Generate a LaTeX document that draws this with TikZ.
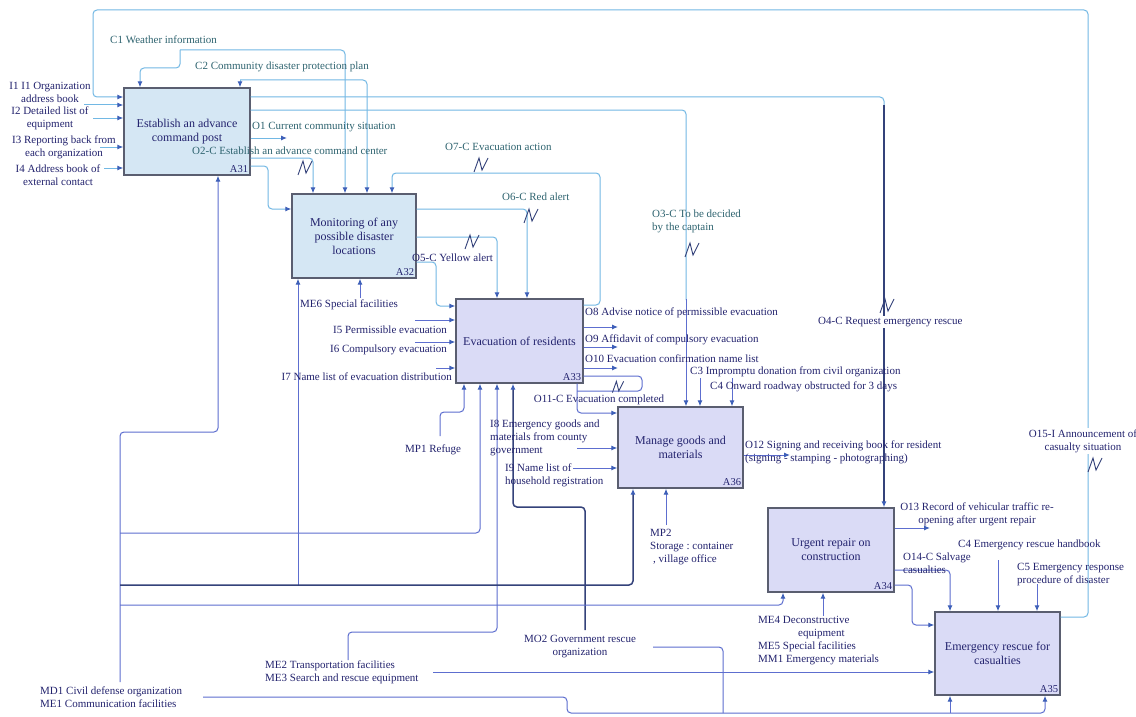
\documentclass[tikz,border=0pt]{standalone}
\usepackage{fontspec}
\setmainfont{Liberation Serif}
\usetikzlibrary{arrows.meta}
\definecolor{lnC}{HTML}{72B8E4}
\definecolor{lnB}{HTML}{5D6ECF}
\definecolor{lnD}{HTML}{34427A}
\definecolor{tipc}{HTML}{3D5FB8}
\definecolor{boxA}{HTML}{D5E7F4}
\definecolor{boxB}{HTML}{DADBF6}
\definecolor{boxE}{HTML}{5A5E70}
\definecolor{txT}{HTML}{2F6470}
\definecolor{txN}{HTML}{23236E}
\tikzset{
  proc/.style={draw=boxE, line width=1.4pt, align=center, inner sep=2pt,
    font=\fontsize{12}{14}\selectfont, text=txN},
  num/.style={anchor=south east, inner sep=2.5pt, font=\fontsize{10.5}{12}\selectfont, text=txN},
  lc/.style={draw=lnC, line width=1pt, rounded corners=4pt},
  lb/.style={draw=lnB, line width=1pt, rounded corners=4pt},
  ld/.style={draw=lnD, line width=1.5pt, rounded corners=4pt},
  arr/.style={-{Latex[length=6pt,width=5pt,color=tipc]}},
  lt/.style={inner sep=0pt, text=txT, font=\fontsize{11}{13}\selectfont},
  ln/.style={inner sep=0pt, text=txN, font=\fontsize{11}{13}\selectfont},
  squig/.pic={\draw[pic actions] (-7,7) -- (-2,-7) -- (1,5) -- (7,-7);},
  sq/.style={draw=lnD, line width=0.9pt},
}
\begin{document}
\begin{tikzpicture}[x=1pt,y=-1pt]
\useasboundingbox[fill=white] (0,0) rectangle (1136,717);

% activity boxes
\node[proc, fill=boxA, minimum width=126pt, minimum height=87pt] (a31) at (187,131.5) {Establish an advance\\command post};
\node[num] (n31) at (a31.south east) {A31};
\node[proc, fill=boxA, minimum width=124pt, minimum height=84pt] (a32) at (354,236) {Monitoring of any\\possible disaster\\locations};
\node[num] (n32) at (a32.south east) {A32};
\node[proc, fill=boxB, minimum width=127pt, minimum height=84pt] (a33) at (519.5,341) {Evacuation of residents};
\node[num] (n33) at (a33.south east) {A33};
\node[proc, fill=boxB, minimum width=125pt, minimum height=81pt] (a36) at (680.5,447.5) {Manage goods and\\materials};
\node[num] (n36) at (a36.south east) {A36};
\node[proc, fill=boxB, minimum width=126pt, minimum height=84pt] (a34) at (831,550) {Urgent repair on\\construction};
\node[num] (n34) at (a34.south east) {A34};
\node[proc, fill=boxB, minimum width=125pt, minimum height=83pt] (a35) at (997.5,653.5) {Emergency rescue for\\casualties};
\node[num] (n35) at (a35.south east) {A35};

% feedback and control lines of the upper part
\draw[lc,arr] (a35.east |- 0,617) -- (1088,617) -- (1088,10) -- (93,10) -- (93,97) -- (a31.west |- 0,97);
\draw[lc] (a31.east |- 0,97) -- (884,97) -- (884,106);
\draw[ld,line width=1.2pt,arr] (884,105) -- (a34.north -| 884,0);
\draw[lc] (a31.east |- 0,110) -- (686,110) -- (686,300);
\draw[lb,arr] (686,299) -- (a36.north -| 686,0);
\coordinate (c1) at (180,50);
\draw[lc,arr] (c1) -- (180,68) -- (140,68) -- (a31.north -| 140,0);
\draw[lc,arr] (c1) -- (345,50) -- (a32.north -| 345,0);
\coordinate (c2) at (240,80);
\draw[lc,arr] (c2) -- (a31.north -| 240,0);
\draw[lc,arr] (c2) -- (367,80) -- (a32.north -| 367,0);
\draw[lc,arr] (a31.east |- 0,138) -- (287,138);
\draw[lc,arr] (a31.east |- 0,158) -- (313,158) -- (a32.north -| 313,0);
\draw[lc,arr] (a31.east |- 0,166) -- (268,166) -- (268,209) -- (a32.west |- 0,209);
\draw[lc,arr] (a33.east |- 0,305) -- (600,305) -- (600,173) -- (392,173) -- (a32.north -| 392,0);
\draw[lc,arr] (a32.east |- 0,209) -- (527,209) -- (a33.north -| 527,0);
\draw[lc,arr] (a32.east |- 0,237) -- (497,237) -- (a33.north -| 497,0);
\draw[lc,arr] (a32.east |- 0,262) -- (436,262) -- (436,306) -- (a33.west |- 0,306);
% inputs of A31
\draw[lc,arr] (84,105) -- (a31.west |- 0,105);
\draw[lc,arr] (93,118) -- (a31.west |- 0,118);
\draw[lc,arr] (100,147) -- (a31.west |- 0,147);
\draw[lc,arr] (104,168) -- (a31.west |- 0,168);

% A32 / A33 inputs and outputs
\draw[lb,arr] (360,298) -- (a32.south -| 360,0);
\draw[lb,arr] (415,320) -- (a33.west |- 0,320);
\draw[lb,arr] (415,342) -- (a33.west |- 0,342);
\draw[lb,arr] (436,368) -- (a33.west |- 0,368);
\draw[lb,arr] (a33.east |- 0,327) -- (618,327);
\draw[lb,arr] (a33.east |- 0,347) -- (618,347);
\draw[lb,arr] (a33.east |- 0,368) -- (618,368);
\draw[lb] (a33.east |- 0,376) -- (642,376) -- (642,391) -- (577,391);
\draw[lb,arr] (a33.south -| 577,0) -- (577,413) -- (a36.west |- 0,413);

% mechanisms from below
\draw[lb,arr] (440,436) -- (440,412) -- (464,412) -- (a33.south -| 464,0);
\draw[lb,arr] (348,660) -- (348,632) -- (497,632) -- (a33.south -| 497,0);
\draw[ld,arr] (585,630) -- (585,507) -- (513,507) -- (a33.south -| 513,0);
\coordinate (md) at (120,682);
\draw[lb,arr] (md) -- (120,432) -- (218,432) -- (a31.south -| 218,0);
\draw[lb,arr] (120,533) -- (480,533) -- (a33.south -| 480,0);
\draw[lb,arr] (298,585) -- (a32.south -| 298,0);
\draw[ld,arr] (120,585) -- (633,585) -- (a36.south -| 633,0);
\draw[lb,arr] (120,605) -- (783,605) -- (a34.south -| 783,0);
\draw[lb,arr] (666,525) -- (a36.south -| 666,0);
\draw[lb,arr] (823,616) -- (a34.south -| 823,0);

% A36
\draw[lb,arr] (700,378) -- (a36.north -| 700,0);
\draw[lb,arr] (732,378) -- (a36.north -| 732,0);
\draw[lb,arr] (577,448) -- (a36.west |- 0,448);
\draw[lb,arr] (573,468) -- (a36.west |- 0,468);
\draw[lb,arr] (a36.east |- 0,455) -- (790,455);

% A34 and A35
\draw[lb,arr] (a34.east |- 0,528) -- (930,528);
\draw[lb,arr] (a34.east |- 0,570) -- (950,570) -- (a35.north -| 950,0);
\draw[lb,arr] (a34.east |- 0,585) -- (912,585) -- (912,625) -- (a35.west |- 0,625);
\draw[lb,arr] (998,560) -- (a35.north -| 998,0);
\draw[lb,arr] (1037,584) -- (a35.north -| 1037,0);
\draw[lb,arr] (433,672) -- (a35.west |- 0,672);
\draw[lb] (653,647) -- (723,647) -- (723,713);
\draw[lb,arr] (203,697) -- (567,697) -- (567,713) -- (1045,713) -- (a35.south -| 1045,0);
\draw[lb,arr] (950,713) -- (a35.south -| 950,0);

% squiggles
\pic[sq] at (305,168) {squig};
\pic[sq] at (481,165) {squig};
\pic[sq] at (531,216) {squig};
\pic[sq] at (472,242) {squig};
\pic[sq] at (692,250) {squig};
\pic[sq] at (887,306) {squig};
\pic[sq, scale=0.8] at (618,387) {squig};
\pic[sq] at (1095,465) {squig};

% labels
\node[lt, anchor=west] (lc1) at (110,40) {C1 Weather information};
\node[lt, anchor=west] (lc2) at (195,67) {C2 Community disaster protection plan};
\node[ln, align=center] (li1) at (50,92) {I1 I1 Organization\\address book};
\node[ln, align=center] (li2) at (50,118) {I2 Detailed list of\\equipment};
\node[ln, align=center] (li3) at (64,147) {I3 Reporting back from\\each organization};
\node[ln, align=center] (li4) at (58,175) {I4 Address book of\\external contact};
\node[lt, anchor=west] (lo1) at (252,127) {O1 Current community situation};
\node[lt, anchor=west] (lo2) at (192,151) {O2-C Establish an advance command center};
\node[lt, anchor=west] (lo7) at (445,147) {O7-C Evacuation action};
\node[lt, anchor=west] (lo6) at (502,197) {O6-C Red alert};
\node[ln, anchor=west] (lo5) at (412,258) {O5-C Yellow alert};
\node[lt, anchor=west, align=left] (lo3) at (652,221) {O3-C To be decided\\by the captain};
\node[ln, anchor=west] (lme6) at (300,305) {ME6 Special facilities};
\node[ln, anchor=east] (li5) at (447,330) {I5 Permissible evacuation};
\node[ln, anchor=east] (li6) at (447,350) {I6 Compulsory evacuation};
\node[ln, anchor=east] (li7) at (452,377) {I7 Name list of evacuation distribution};
\node[ln, anchor=west] (lo8) at (585,313) {O8 Advise notice of permissible evacuation};
\node[ln, anchor=west] (lo9) at (585,340) {O9 Affidavit of compulsory evacuation};
\node[ln, anchor=west] (lo10) at (585,359) {O10 Evacuation confirmation name list};
\node[ln, anchor=west, fill=white, inner sep=1pt] (lo4) at (817,322) {O4-C Request emergency rescue};
\node[ln, anchor=west] (lc3) at (690,372) {C3 Impromptu donation from civil organization};
\node[ln, anchor=west] (lc4) at (710,387) {C4 Onward roadway obstructed for 3 days};
\node[ln] (lo11) at (599,400) {O11-C Evacuation completed};
\node[ln, anchor=west] (lmp1) at (405,450) {MP1 Refuge};
\node[ln, anchor=west, align=left] (li8) at (490,438) {I8 Emergency goods and\\materials from county\\government};
\node[ln, anchor=west, align=left] (li9) at (505,475) {I9 Name list of\\household registration};
\node[ln, anchor=west, align=left] (lo12) at (745,452) {O12 Signing and receiving book for resident\\(signing - stamping - photographing)};
\node[ln, anchor=west, align=left] (lmp2) at (650,547) {MP2\\Storage\ :\ container\\\hspace*{3pt}, village office};
\node[ln, align=center] (lo13) at (977,514) {O13 Record of vehicular traffic re-\\opening after urgent repair};
\node[ln, anchor=west] (lc4b) at (958,545) {C4 Emergency rescue handbook};
\node[ln, anchor=west, align=left] (lo14) at (903,563) {O14-C Salvage\\casualties};
\node[ln, anchor=west, align=left] (lc5) at (1017,575) {C5 Emergency response\\procedure of disaster};
\node[ln, align=center, fill=white, inner sep=1pt] (lo15) at (1083,441) {O15-I Announcement of\\casualty situation};
\node[ln, anchor=west, align=left] (lme4) at (758,641) {ME4 Deconstructive\\\hspace*{40pt}equipment\\ME5 Special facilities\\MM1 Emergency materials};
\node[ln, align=center] (lmo2) at (580,647) {MO2 Government rescue\\organization};
\node[ln, anchor=west, align=left] (lme2) at (265,672) {ME2 Transportation facilities\\ME3 Search and rescue equipment};
\node[ln, anchor=west, align=left] (lmd1) at (40,697) {MD1 Civil defense organization\\ME1 Communication facilities};
\end{tikzpicture}
\end{document}
